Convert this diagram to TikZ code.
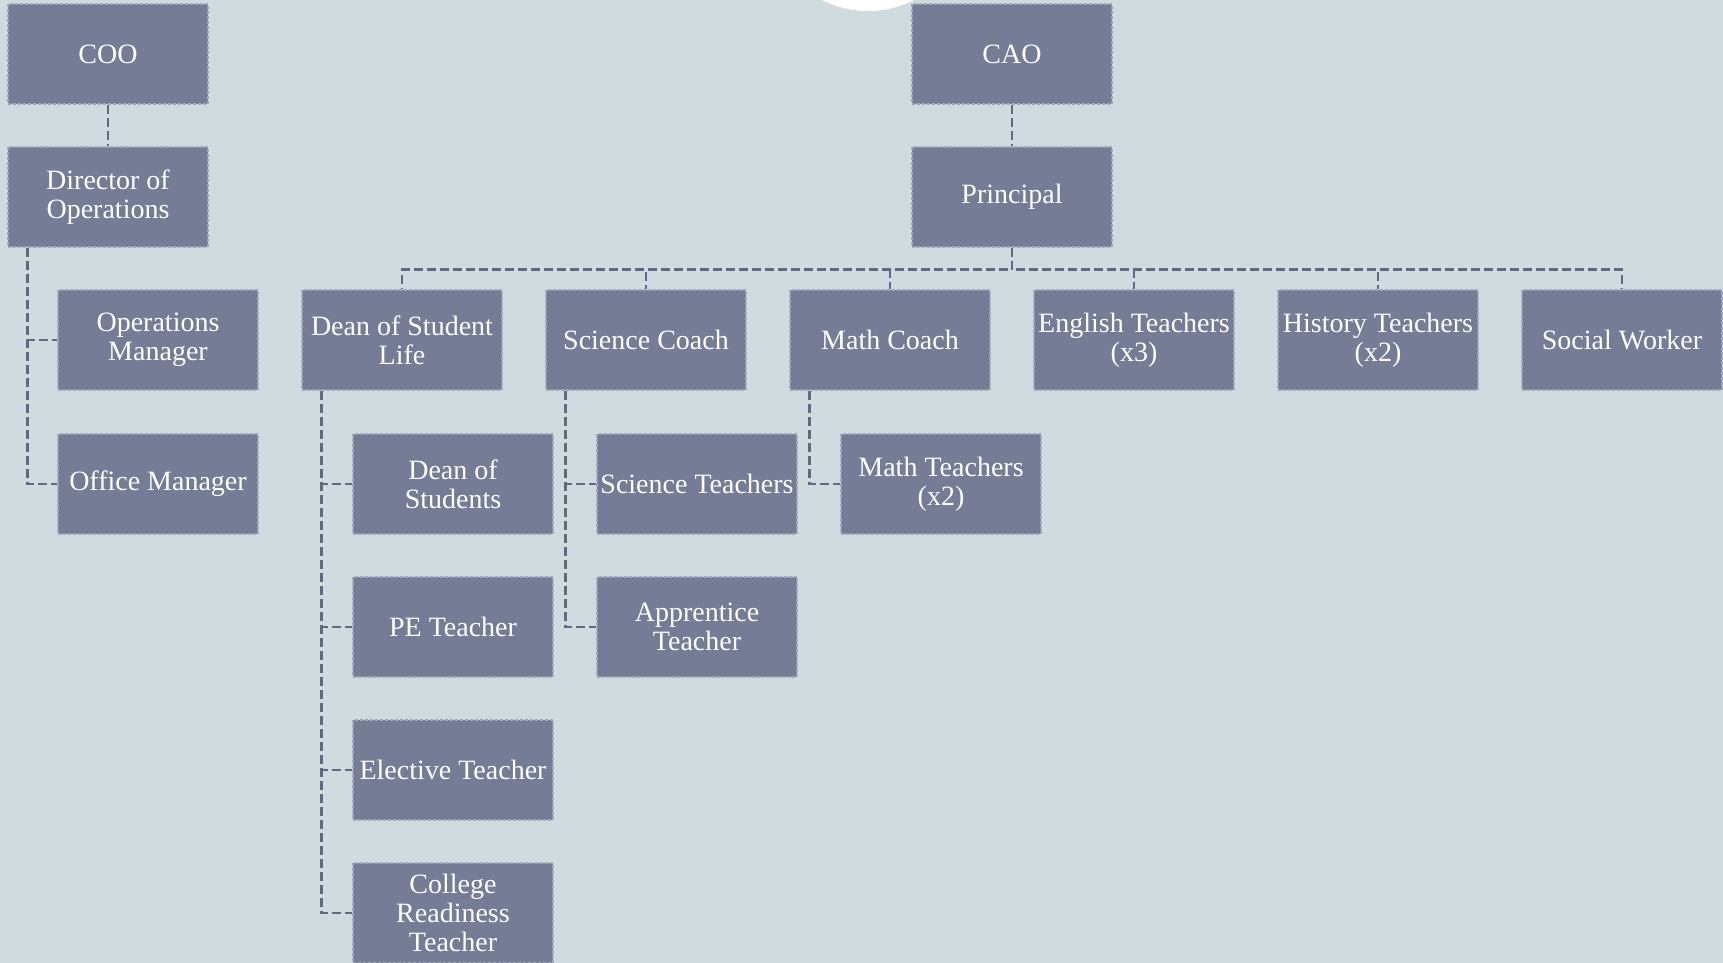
\documentclass[tikz,border=0pt]{standalone}
\usepackage{fontspec}
\setmainfont{Liberation Serif}
\definecolor{bgcol}{RGB}{207,219,223}
\definecolor{boxfill}{RGB}{116,124,150}
\definecolor{boxedge}{RGB}{160,167,186}
\definecolor{linkcol}{RGB}{96,104,130}
\begin{document}
\begin{tikzpicture}
[x=0.5pt,y=-0.5pt]
\tikzset{box/.style={rectangle,fill=boxfill,draw=boxedge,dash pattern=on 1.5pt off 1pt,line width=0.7pt,minimum width=100pt,minimum height=50pt,inner sep=1pt,align=center,text=white,font=\fontsize{14}{14.5}\selectfont}}
\tikzset{link/.style={draw=linkcol,line width=1.35pt,dash pattern=on 4.5pt off 2pt}}
\clip (0,0) rectangle (1723,963);
\fill[bgcol] (0,0) rectangle (1723,963);
\fill[white] (868,-91) circle (51pt);

\node [box] (coo) at (108,54) {COO};
\node [box] (dirops) at (108,197) {Director of\\Operations};
\node [box] (opsman) at (158,340) {Operations\\Manager};
\node [box] (offman) at (158,484) {Office Manager};

\node [box] (cao) at (1012,54) {CAO};
\node [box] (principal) at (1012,197) {Principal};

\node [box] (dsl) at (402,340) {Dean of Student\\Life};
\node [box] (scoach) at (646,340) {Science Coach};
\node [box] (mcoach) at (890,340) {Math Coach};
\node [box] (english) at (1134,340) {English Teachers\\(x3)};
\node [box] (history) at (1378,340) {History Teachers\\(x2)};
\node [box] (social) at (1622,340) {Social Worker};

\node [box] (dos) at (453,484) {Dean of\\Students};
\node [box] (pe) at (453,627) {PE Teacher};
\node [box] (elective) at (453,770) {Elective Teacher};
\node [box] (college) at (453,913) {College\\Readiness\\Teacher};

\node [box] (sciteach) at (697,484) {Science Teachers};
\node [box] (apprentice) at (697,627) {Apprentice\\Teacher};
\node [box] (mathteach) at (941,484) {Math Teachers\\(x2)};

\draw[link] (coo.south) -- (dirops.north);
\draw[link] (cao.south) -- (principal.north);

\foreach \to in {dsl,scoach,mcoach,english,history,social}
	\draw[link] (principal.south) -- ++(0,22) -| (\to.north);

\foreach \from/\to in {dirops/opsman,dirops/offman,dsl/dos,dsl/pe,dsl/elective,dsl/college,scoach/sciteach,scoach/apprentice,mcoach/mathteach}
	\draw[link] ([xshift=10pt]\from.south west) |- (\to.west);

\end{tikzpicture}
\end{document}
